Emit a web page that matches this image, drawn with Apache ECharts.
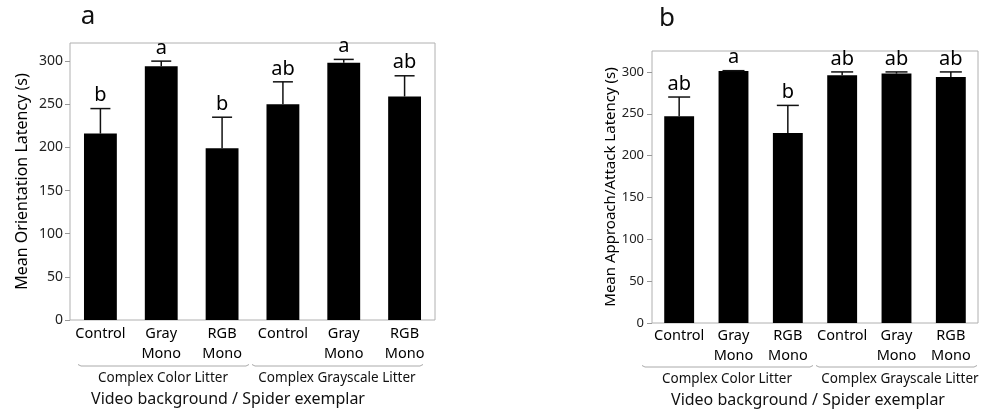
<!DOCTYPE html>
<html>
<head>
<meta charset="utf-8">
<script src="https://cdn.jsdelivr.net/npm/echarts@6/dist/echarts.min.js"></script>
<style>
  html, body { margin: 0; padding: 0; background: #fff; }
  #main { width: 986px; height: 413px; }
</style>
</head>
<body>
<div id="main"></div>
<script>
// data
const categories = ['Control', 'Gray\nMono', 'RGB\nMono', 'Control', 'Gray\nMono', 'RGB\nMono'];
const groups = ['Complex Color Litter', 'Complex Grayscale Litter'];
const yTicks = [0, 50, 100, 150, 200, 250, 300];

// panel a: orientation latency
const orientMean = [216, 294, 199, 250, 298, 259];
const orientUpper = [245, 300, 235, 276, 302, 283];
const orientLetters = ['b', 'a', 'b', 'ab', 'a', 'ab'];

// panel b: approach/attack latency
const attackMean = [247, 301, 227, 296, 298, 294];
const attackUpper = [270, 301.5, 260, 300, 300, 300];
const attackLetters = ['ab', 'a', 'b', 'ab', 'ab', 'ab'];

const FONT = '"Noto Sans", "Open Sans", sans-serif';

const chart = echarts.init(document.getElementById('main'));

function errorItem(letters, capW) {
  return function (params, api) {
    const base = api.coord([api.value(0), api.value(1)]);
    const top = api.coord([api.value(0), api.value(2)]);
    const st = { stroke: '#111', lineWidth: 1.5 };
    return {
      type: 'group',
      children: [
        { type: 'line', shape: { x1: base[0], y1: base[1], x2: base[0], y2: top[1] }, style: st },
        { type: 'line', shape: { x1: base[0] - capW / 2, y1: top[1], x2: base[0] + capW / 2, y2: top[1] }, style: st },
        {
          type: 'text', x: base[0], y: top[1] - 3,
          style: {
            text: letters[params.dataIndex], fill: '#000',
            font: '20px ' + FONT, align: 'center', verticalAlign: 'bottom'
          }
        }
      ]
    };
  };
}

function xAxisOf(i, margin) {
  return {
    type: 'category', gridIndex: i, data: categories,
    axisLine: { show: false }, axisTick: { show: false },
    axisLabel: {
      interval: 0, fontSize: 14.5, color: '#000', fontFamily: FONT,
      margin: margin, lineHeight: 20, verticalAlign: 'top'
    }
  };
}

function yAxisOf(i, max, name, nameSize, gap, margin, labelSize) {
  return {
    type: 'value', gridIndex: i, min: 0, max: max, interval: 50,
    name: name, nameLocation: 'middle', nameRotate: 90, nameGap: gap,
    nameTextStyle: { fontSize: nameSize, color: '#000', fontFamily: FONT },
    axisLine: { show: false },
    axisTick: { show: true, length: 5, customValues: yTicks, lineStyle: { color: '#999' } },
    axisLabel: { customValues: yTicks, fontSize: labelSize, color: '#222', fontFamily: FONT, margin: margin },
    splitLine: { show: false }
  };
}

function bracket(x1, x2, y) {
  return {
    type: 'polyline',
    shape: { points: [[x1, y - 1.5], [x1 + 3, y], [x2 - 3, y], [x2, y - 1.5]] },
    style: { stroke: '#aaa', lineWidth: 1, fill: null }
  };
}

function label(text, x, y, size) {
  return {
    type: 'text', x: x, y: y,
    style: { text: text, fill: '#111', font: size + 'px ' + FONT, align: 'center', verticalAlign: 'middle' }
  };
}

const option = {
  animation: false,
  backgroundColor: '#fff',
  grid: [
    { left: 70, top: 43, width: 365, height: 277, show: true, borderColor: '#b0b0b0', borderWidth: 1 },
    { left: 652, top: 51, width: 326, height: 272, show: true, borderColor: '#b0b0b0', borderWidth: 1 }
  ],
  xAxis: [xAxisOf(0, 4), xAxisOf(1, 3)],
  yAxis: [
    yAxisOf(0, 321, 'Mean Orientation Latency (s)', 16, 40, 7, 14),
    yAxisOf(1, 325, 'Mean Approach/Attack Latency (s)', 15, 34, 8, 13)
  ],
  graphic: [
    label('a', 88, 17, 26),
    label('b', 667, 19, 26),
    bracket(78, 249, 366),
    bracket(252, 423, 366),
    bracket(642, 813, 367),
    bracket(816, 977, 367),
    label(groups[0], 163, 378, 13.5),
    label(groups[1], 337, 378, 13.5),
    label(groups[0], 727, 379, 13.5),
    label(groups[1], 900, 379, 13.5),
    label('Video background / Spider exemplar', 228, 399, 16),
    label('Video background / Spider exemplar', 808, 400, 16)
  ],
  series: [
    {
      type: 'bar', xAxisIndex: 0, yAxisIndex: 0, data: orientMean,
      barWidth: '54%', itemStyle: { color: '#000' }
    },
    {
      type: 'custom', xAxisIndex: 0, yAxisIndex: 0, z: 3,
      data: orientMean.map((v, i) => [i, v, orientUpper[i]]),
      renderItem: errorItem(orientLetters, 20)
    },
    {
      type: 'bar', xAxisIndex: 1, yAxisIndex: 1, data: attackMean,
      barWidth: '55%', itemStyle: { color: '#000' }
    },
    {
      type: 'custom', xAxisIndex: 1, yAxisIndex: 1, z: 3,
      data: attackMean.map((v, i) => [i, v, attackUpper[i]]),
      renderItem: errorItem(attackLetters, 22)
    }
  ]
};

chart.setOption(option);
</script>
</body>
</html>
